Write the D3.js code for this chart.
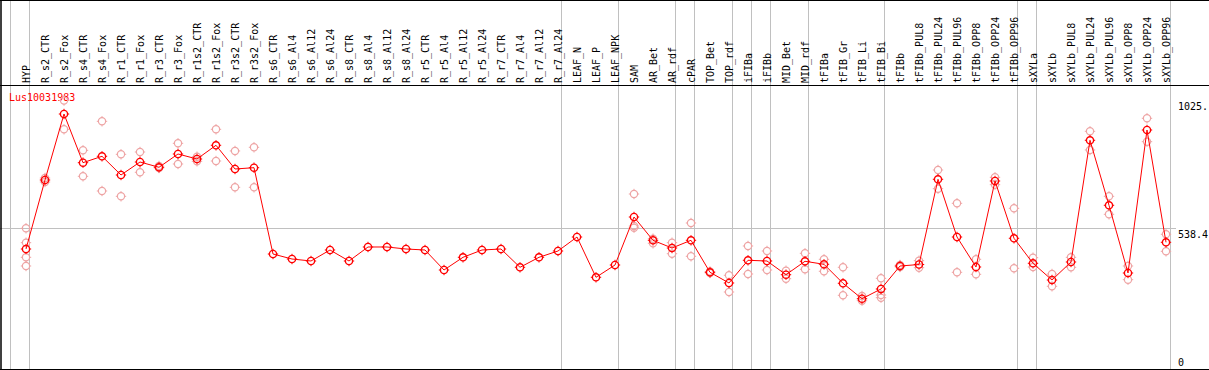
<!DOCTYPE html>
<html><head><meta charset="utf-8">
<script src="https://cdn.jsdelivr.net/npm/d3@7"></script>
<style>html,body{margin:0;padding:0;background:#fff}svg{display:block}</style>
</head><body>
<svg id="c" width="1209" height="370"></svg>
<script>
const categories = ["HYP","R_s2_CTR","R_s2_Fox","R_s4_CTR","R_s4_Fox","R_r1_CTR","R_r1_Fox","R_r3_CTR","R_r3_Fox","R_r1s2_CTR","R_r1s2_Fox","R_r3s2_CTR","R_r3s2_Fox","R_s6_CTR","R_s6_Al4","R_s6_Al12","R_s6_Al24","R_s8_CTR","R_s8_Al4","R_s8_Al12","R_s8_Al24","R_r5_CTR","R_r5_Al4","R_r5_Al12","R_r5_Al24","R_r7_CTR","R_r7_Al4","R_r7_Al12","R_r7_Al24","LEAF_N","LEAF_P","LEAF_NPK","SAM","AR_Bet","AR_rdf","cPAR","TOP_Bet","TOP_rdf","iFIBa","iFIBb","MID_Bet","MID_rdf","tFIBa","tFIB_Gr","tFIB_Li","tFIB_Bi","tFIBb","tFIBb_PUL8","tFIBb_PUL24","tFIBb_PUL96","tFIBb_OPP8","tFIBb_OPP24","tFIBb_OPP96","sXYLa","sXYLb","sXYLb_PUL8","sXYLb_PUL24","sXYLb_PUL96","sXYLb_OPP8","sXYLb_OPP24","sXYLb_OPP96"];
const meanValues = [458.2,721.7,973.7,787.8,812.2,740.8,790.4,770.2,821.0,801.9,854.2,763.7,768.7,439.1,420.0,412.4,454.4,412.4,465.9,465.9,458.2,454.4,378.0,426.5,454.4,458.2,388.3,426.5,450.6,504.0,350.2,397.1,580.4,491.4,462.0,491.4,369.2,328.4,415.1,412.4,360.1,411.3,399.8,327.2,268.4,305.5,393.3,399.0,724.4,504.0,389.5,717.9,499.1,403.6,339.8,408.6,873.3,625.1,366.6,912.6,483.8];
const rep1 = [537.3,729.3,1025.1,835.1,945.8,819.8,828.6,775.2,861.8,810.7,915.3,832.6,846.6,null,null,null,null,null,null,null,null,null,null,null,null,null,null,null,null,null,null,null,668.2,497.6,482.3,557.5,372.3,357.8,469.7,450.6,375.4,441.8,418.9,388.3,278.8,346.3,397.1,413.5,759.9,632.7,418.9,732.0,613.6,425.0,362.8,426.5,907.6,659.4,393.3,957.3,514.4];
const rep2 = [482.3,714.1,915.3,735.8,679.7,659.4,751.1,767.5,782.8,793.1,794.2,693.8,693.8,null,null,null,null,null,null,null,null,null,null,null,null,null,null,null,null,null,null,null,546.0,480.0,440.3,430.3,366.6,294.0,362.8,378.0,344.8,380.7,373.1,281.4,260.8,282.6,389.5,386.8,688.5,369.2,361.6,703.8,384.5,389.5,315.8,388.3,836.3,590.7,341.0,868.0,449.4];
const rep3 = [426.5,null,null,null,null,null,null,null,null,null,null,null,null,null,null,null,null,null,null,null,null,null,null,null,null,null,null,null,null,null,null,null,539.5,null,null,null,null,null,null,null,null,null,null,null,null,272.3,null,null,null,null,null,null,null,null,null,null,null,null,null,null,null];
const rep4 = [393.3,null,null,null,null,null,null,null,null,null,null,null,null,null,null,null,null,null,null,null,null,null,null,null,null,null,null,null,null,null,null,null,null,null,null,null,null,null,null,null,null,null,null,null,null,null,null,null,null,null,null,null,null,null,null,null,null,null,null,null,null];
const groupStarts = ["HYP","R_s2_CTR","LEAF_N","SAM","cPAR","TOP_Bet","iFIBa","iFIBb","MID_Bet","tFIBa","tFIBb","sXYLa","sXYLb"];
const tickValues = [1025.1, 538.4, 0];
const tickLabels = ["1025.", "538.4", "0"];
const gridValues = [538.4];
const geneName = "Lus10031983";

const svg = d3.select("#c");
const W = 1209, H = 370;
const font = "'DejaVu Sans Mono', 'Liberation Mono', monospace";
const x = d3.scaleBand().domain(categories).range([11, 1170]).paddingInner(0).paddingOuter(0);
const cx = d => x(d) + 15;
const y = d3.scaleLinear().domain([0, 1076.8]).range([369, 87]);
const gray = "#c0c0c0";

// group separator lines
const sepX = groupStarts.map(c => Math.round(x(c)) - 0.5).concat([Math.round(x.range()[1]) + 0.5]);
svg.append("g").selectAll("line").data(sepX).join("line")
  .attr("x1", d => d).attr("x2", d => d).attr("y1", 0).attr("y2", H)
  .attr("stroke", gray).attr("stroke-width", 1);

// horizontal gridline
svg.append("g").selectAll("line").data(gridValues).join("line")
  .attr("x1", 0).attr("x2", 1176)
  .attr("y1", d => Math.round(y(d)) + 0.5).attr("y2", d => Math.round(y(d)) + 0.5)
  .attr("stroke", gray).attr("stroke-width", 1);

// frame
svg.append("line").attr("x1", 0).attr("x2", W).attr("y1", 0.5).attr("y2", 0.5).attr("stroke", "#000");
svg.append("line").attr("x1", 0).attr("x2", W).attr("y1", 85.5).attr("y2", 85.5).attr("stroke", "#000").attr("stroke-width", 1.2);
svg.append("line").attr("x1", 0).attr("x2", W).attr("y1", 369.5).attr("y2", 369.5).attr("stroke", "#000");
svg.append("line").attr("x1", 1).attr("x2", 1).attr("y1", 0).attr("y2", H).attr("stroke", "#000").attr("stroke-width", 1.5);

// header labels
svg.append("g").selectAll("text").data(categories).join("text")
  .attr("transform", d => `translate(${cx(d) + 4},83) rotate(-90)`)
  .attr("text-anchor", "start")
  .attr("font-family", font).attr("font-size", 10).attr("fill", "#000")
  .text(d => d);

// right tick labels
svg.append("g").selectAll("text").data(tickValues).join("text")
  .attr("x", 1178)
  .attr("y", d => Math.min(y(d) + 9.5, 366))
  .attr("font-family", font).attr("font-size", 10).attr("fill", "#000")
  .text((d, i) => tickLabels[i]);

// title
svg.append("text").attr("x", 9).attr("y", 101)
  .attr("font-family", font).attr("font-size", 10).attr("fill", "#ff0000")
  .text(geneName);

function marker(g, px, py, color, sw) {
  g.append("circle").attr("cx", px).attr("cy", py).attr("r", 3.6)
    .attr("fill", "none").attr("stroke", color).attr("stroke-width", sw);
  const t = [[0,-1],[0,1],[-1,0],[1,0]];
  t.forEach(([dx, dy]) => {
    g.append("line").attr("x1", px + dx*3.6).attr("y1", py + dy*3.6)
      .attr("x2", px + dx*5.2).attr("y2", py + dy*5.2)
      .attr("stroke", color).attr("stroke-width", 1);
  });
}

// replicates
const repG = svg.append("g");
[rep1, rep2, rep3, rep4].forEach(arr => {
  arr.forEach((v, i) => {
    if (v == null) return;
    marker(repG, cx(categories[i]), y(v), "#eea4a4", 1.2);
  });
});

// mean line
const line = d3.line().x((d, i) => cx(categories[i])).y(d => y(d));
svg.append("path").datum(meanValues).attr("d", line)
  .attr("fill", "none").attr("stroke", "#ff0000").attr("stroke-width", 1);

// mean markers
const mG = svg.append("g");
meanValues.forEach((v, i) => marker(mG, cx(categories[i]), y(v), "#ff0000", 1.4));
</script>
</body></html>
